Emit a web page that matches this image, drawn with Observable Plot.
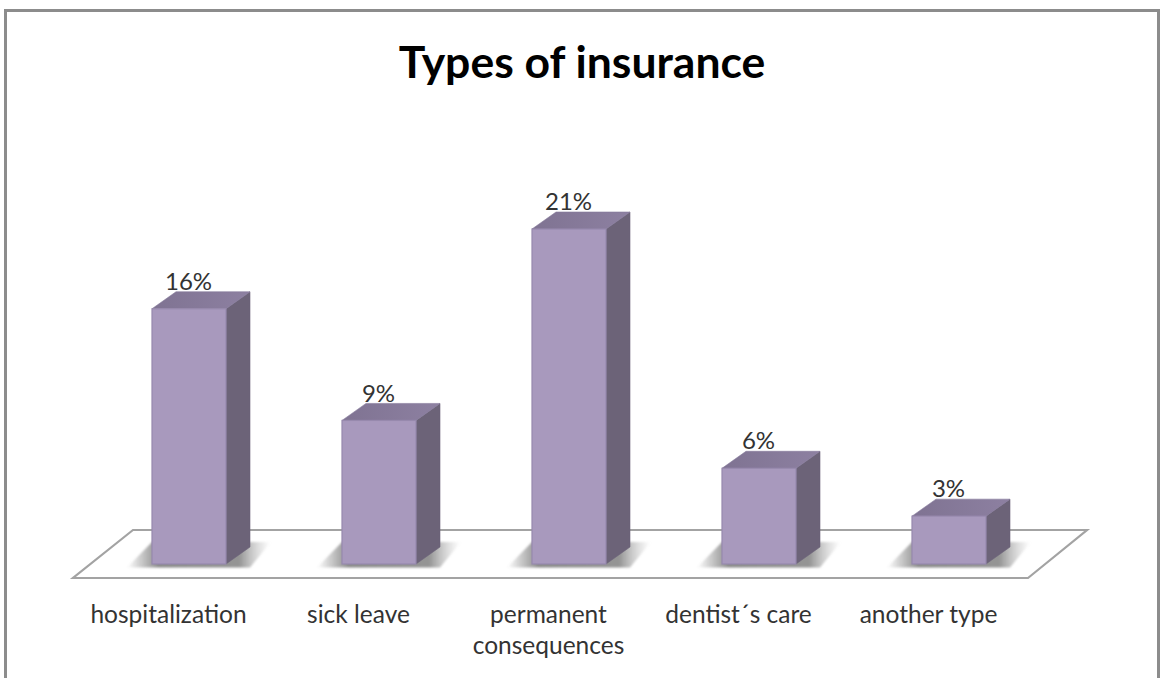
<!DOCTYPE html>
<html>
<head>
<meta charset="utf-8">
<script src="https://cdn.jsdelivr.net/npm/d3@7"></script>
<script src="https://cdn.jsdelivr.net/npm/@observablehq/plot@0.6"></script>
<style>
  html, body { margin: 0; padding: 0; background: #fff; overflow: hidden; }
  #sheet { position: relative; width: 1160px; height: 678px; overflow: hidden; }
  #border { position: absolute; left: 4px; top: 9px; width: 1150px; height: 720px; border: 3px solid #8c8c8c; }
  #title { position: absolute; left: 0; top: 35px; width: 1164px; text-align: center; font: 700 44.5px/52px Lato, sans-serif; color: #000; }
  #chart { position: absolute; left: 0; top: 100px; }
  #chart svg { background: transparent; }
</style>
</head>
<body>
<div id="sheet">
  <div id="border"></div>
  <div id="title">Types of insurance</div>
  <div id="chart"></div>
</div>
<script>
// Share of respondents per insurance type, in percent
const categories = ["hospitalization", "sick leave", "permanent consequences", "dentist´s care", "another type"];
const shares = [16, 9, 21, 6, 3];
const axisLabels = ["hospitalization", "sick leave", "permanent\nconsequences", "dentist´s care", "another type"];

const rows = categories.map((category, i) => ({category, share: shares[i]}));
const labelFont = "Lato, sans-serif";

// Extruded look: offset of the back face and the bar's inset inside its band
const depth = {dx: 24, dy: -17};
const inset = 58;
const shift = 21;

const polygon = (g, pts, attrs) => {
  const p = g.append("polygon").attr("points", pts.map(q => q.join(",")).join(" "));
  for (const k in attrs) p.attr(k, attrs[k]);
  return p;
};

// Left and right edge of a bar's front face in pixels
const faceEdges = (scales, category) => {
  const bw = typeof scales.x.bandwidth === "function" ? scales.x.bandwidth() : scales.x.bandwidth;
  const start = scales.x(category);
  return [start + inset + shift, start + bw - inset + shift];
};

// Floor plate and the soft cast shadows, drawn behind the bars
function floorMark(index, scales, values, dims) {
  const g = d3.create("svg:g");
  const base = scales.y(0);
  const defs = g.append("defs");
  const grad = defs.append("linearGradient").attr("id", "cast");
  [[0, "#8a8a8a", 0], [0.22, "#8a8a8a", 1], [0.78, "#8f8f8f", 0.95], [1, "#bbbbbb", 0]].forEach(([o, c, a]) =>
    grad.append("stop").attr("offset", o).attr("stop-color", c).attr("stop-opacity", a));
  defs.append("filter").attr("id", "soft").append("feGaussianBlur").attr("stdDeviation", 1.2);
  const l = dims.marginLeft, r = dims.width - dims.marginRight + 5;
  polygon(g, [[l, base + 14], [r, base + 14], [r + 59, base - 34], [l + 60, base - 34]],
    {fill: "#fff", stroke: "#a3a3a3", "stroke-width": 2.2, "stroke-linejoin": "miter"});
  for (const d of rows) {
    const [x0, x1] = faceEdges(scales, d.category);
    polygon(g, [[x0 - 25, base + 3.5], [x1 + 24, base + 3.5], [x1 + 45, base - 22], [x0, base - 22]],
      {fill: "url(#cast)", filter: "url(#soft)"});
  }
  return g.node();
}

// Top and side faces of each bar, placed from the same scales as the front face
function depthMark(index, scales) {
  const g = d3.create("svg:g");
  const base = scales.y(0);
  const defs = g.append("defs");
  const top = defs.append("linearGradient").attr("id", "topFace");
  top.append("stop").attr("offset", 0).attr("stop-color", "#7f7392");
  top.append("stop").attr("offset", 1).attr("stop-color", "#8d80a1");
  for (const d of rows) {
    const [x0, x1] = faceEdges(scales, d.category);
    const y = scales.y(d.share);
    polygon(g, [[x1, y], [x1 + depth.dx, y + depth.dy], [x1 + depth.dx, base + depth.dy], [x1, base]],
      {fill: "#6c6378", stroke: "#6c6378", "stroke-width": 0.6, "stroke-linejoin": "round"});
    polygon(g, [[x0, y], [x0 + depth.dx, y + depth.dy], [x1 + depth.dx, y + depth.dy], [x1, y]],
      {fill: "url(#topFace)", stroke: "#85799a", "stroke-width": 0.6, "stroke-linejoin": "round"});
  }
  return g.node();
}

const chart = Plot.plot({
  width: 1160,
  height: 578,
  marginLeft: 73,
  marginRight: 137,
  marginTop: 129,
  marginBottom: 114,
  style: {background: "transparent", overflow: "visible"},
  x: {domain: categories, padding: 0, label: null},
  y: {domain: [0, 21], axis: null},
  marks: [
    floorMark,
    depthMark,
    Plot.barY(rows, {
      x: "category", y: "share",
      dx: shift, insetLeft: inset, insetRight: inset,
      fill: "#a899bd", stroke: "#9789ad", strokeWidth: 1.2
    }),
    Plot.text(rows, {
      x: "category", y: "share",
      text: d => `${d.share}%`,
      dx: shift - 1, dy: -27,
      fontFamily: labelFont, fontSize: 24, fill: "#333333"
    }),
    Plot.axisX({
      anchor: "bottom",
      tickSize: 0,
      tickPadding: 36,
      tickFormat: d => axisLabels[categories.indexOf(d)],
      lineHeight: 1.27,
      fontFamily: labelFont,
      fontSize: 24.5,
      fill: "#333333",
      label: null
    })
  ]
});
document.getElementById("chart").append(chart);
</script>
</body>
</html>
